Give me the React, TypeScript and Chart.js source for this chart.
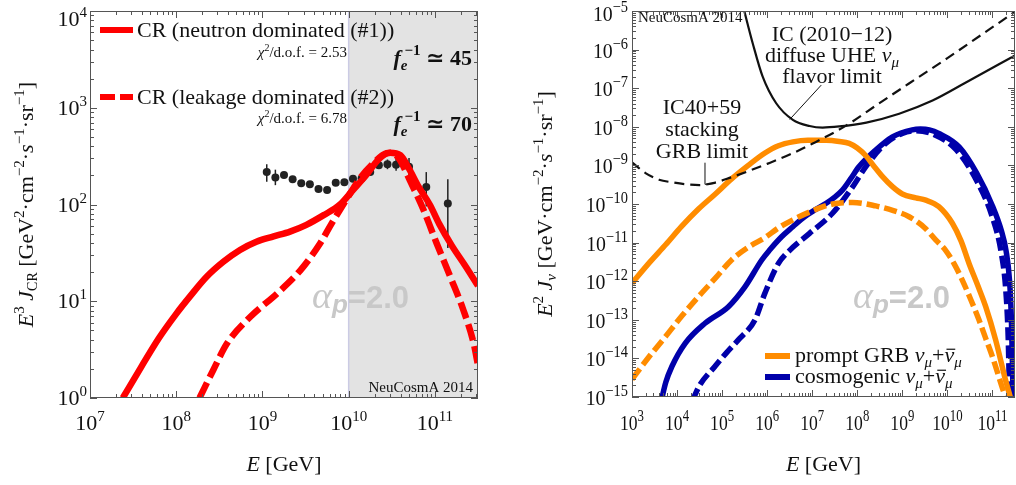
import React, { useEffect, useRef } from 'react';
import { Chart, registerables } from 'chart.js';

Chart.register(...registerables);

const SERIF = '"Liberation Serif", "DejaVu Serif", serif';
const SANS = '"Liberation Sans", "DejaVu Sans", sans-serif';
const RED = '#ff0000';
const ORANGE = '#ff8c00';
const BLUE = '#0000aa';
const INK = '#111111';

// ---------------- Left panel: CR spectrum (log10 E [GeV], log10 E^3 J) ----------------
const crNeutronLogE = [7.38, 7.6, 7.8, 8.0, 8.16, 8.35, 8.55, 8.74, 8.93, 9.13, 9.32, 9.51, 9.71, 9.9, 10.05, 10.2, 10.35, 10.48, 10.6, 10.7, 10.8, 10.94, 11.05, 11.2, 11.35, 11.5];
const crNeutronLogJ = [0, 0.33, 0.62, 0.87, 1.05, 1.25, 1.41, 1.53, 1.615, 1.67, 1.72, 1.79, 1.89, 2.0, 2.15, 2.3, 2.47, 2.535, 2.51, 2.37, 2.2, 2.0, 1.8, 1.57, 1.37, 1.16];
const crLeakageLogE = [8.27, 8.43, 8.59, 8.86, 9.17, 9.44, 9.67, 9.8, 9.98, 10.13, 10.29, 10.44, 10.5, 10.58, 10.71, 10.87, 11.02, 11.18, 11.33, 11.45, 11.5];
const crLeakageLogJ = [0, 0.29, 0.565, 0.84, 1.08, 1.32, 1.6, 1.8, 2.06, 2.27, 2.43, 2.53, 2.535, 2.48, 2.25, 1.94, 1.6, 1.25, 0.91, 0.565, 0.34];
const augerLogE = [9.05, 9.15, 9.25, 9.35, 9.45, 9.55, 9.65, 9.75, 9.85, 9.95, 10.05, 10.15, 10.25, 10.35, 10.45, 10.55, 10.7, 10.9, 11.15];
const augerLogJ = [2.335, 2.28, 2.305, 2.26, 2.22, 2.21, 2.16, 2.15, 2.225, 2.23, 2.265, 2.27, 2.335, 2.405, 2.415, 2.41, 2.39, 2.18, 2.01];
const augerErrUp = [0.08, 0.08, 0.03, 0.02, 0.02, 0.02, 0.02, 0.02, 0.02, 0.02, 0.02, 0.02, 0.02, 0.03, 0.05, 0.06, 0.09, 0.155, 0.25];
const augerErrDown = [0.1, 0.08, 0.03, 0.02, 0.02, 0.02, 0.02, 0.02, 0.02, 0.02, 0.02, 0.02, 0.02, 0.03, 0.05, 0.06, 0.12, 0.2, 0.46];
const shadeFromE = 1e10;
const leftXLabelExps = [7, 8, 9, 10, 11];
const leftYLabelExps = [0, 1, 2, 3, 4];

// ---------------- Right panel: neutrino fluxes (log10 E [GeV], log10 E^2 J) ----------------
const icLimitLogE = [5.47, 5.68, 5.9, 6.2, 6.57, 6.94, 7.23, 7.6, 8.2, 8.93, 9.67, 10.4, 11.5];
const icLimitLogJ = [-4.9, -5.84, -6.7, -7.39, -7.82, -7.98, -8.02, -7.99, -7.89, -7.66, -7.32, -6.86, -6.15];
const grbStackLogE = [3.0, 3.3, 3.6, 3.9, 4.2, 4.5, 4.8, 5.2, 5.6, 6.0, 6.5, 7.0, 7.75, 8.5, 9.3, 10.0, 10.8, 11.5];
const grbStackLogJ = [-8.92, -9.2, -9.37, -9.44, -9.49, -9.51, -9.46, -9.31, -9.14, -8.96, -8.72, -8.44, -7.97, -7.38, -6.76, -6.22, -5.58, -5.02];
const promptSolidLogE = [3.0, 3.4, 3.75, 4.1, 4.475, 4.85, 5.21, 5.58, 5.95, 6.25, 6.57, 6.9, 7.31, 7.6, 7.82, 8.0, 8.19, 8.37, 8.56, 8.78, 9.0, 9.3, 9.52, 9.81, 10.11, 10.3, 10.48, 10.67, 10.85, 11.07, 11.29, 11.42];
const promptSolidLogJ = [-12.05, -11.5, -11.05, -10.58, -10.13, -9.74, -9.35, -9.0, -8.68, -8.49, -8.39, -8.35, -8.35, -8.38, -8.43, -8.55, -8.75, -9.02, -9.29, -9.55, -9.74, -9.84, -9.9, -10.07, -10.5, -10.95, -11.54, -12.1, -12.66, -13.52, -14.56, -15.1];
const promptDashedLogE = [3.0, 3.37, 3.74, 4.1, 4.475, 4.85, 5.21, 5.58, 5.95, 6.25, 6.57, 7.0, 7.45, 7.9, 8.41, 8.8, 9.15, 9.5, 9.74, 9.96, 10.15, 10.33, 10.52, 10.7, 10.85, 11.0, 11.21, 11.3];
const promptDashedLogJ = [-14.54, -13.97, -13.44, -12.91, -12.4, -11.92, -11.45, -11.12, -10.87, -10.62, -10.41, -10.18, -10.0, -9.96, -10.05, -10.17, -10.33, -10.62, -10.93, -11.2, -11.55, -11.97, -12.48, -13.0, -13.48, -13.96, -14.73, -15.05];
const cosmoSolidLogE = [3.65, 3.75, 3.885, 4.18, 4.62, 5.14, 5.51, 5.88, 6.05, 6.32, 6.57, 6.83, 7.05, 7.31, 7.5, 7.67, 7.85, 8.04, 8.41, 8.78, 9.22, 9.4, 9.6, 9.81, 10.26, 10.65, 11.0, 11.2, 11.3, 11.38, 11.42, 11.44, 11.46];
const cosmoSolidLogJ = [-15.1, -14.62, -14.21, -13.61, -13.09, -12.66, -12.14, -11.45, -11.2, -10.85, -10.59, -10.33, -10.16, -9.98, -9.82, -9.64, -9.35, -9.03, -8.6, -8.26, -8.08, -8.06, -8.08, -8.17, -8.52, -9.2, -10.05, -10.7, -11.2, -12.0, -13.0, -14.0, -15.1];
const cosmoDashedLogE = [4.34, 4.5, 4.84, 5.1, 5.36, 5.73, 5.95, 6.25, 6.5, 6.94, 7.45, 7.9, 8.19, 8.63, 9.0, 9.3, 9.7, 10.2, 10.65, 11.0, 11.2, 11.3, 11.35, 11.38];
const cosmoDashedLogJ = [-15.1, -14.7, -14.21, -13.85, -13.52, -13.0, -12.31, -11.54, -11.2, -10.76, -10.24, -9.55, -9.03, -8.43, -8.17, -8.1, -8.2, -8.6, -9.4, -10.35, -11.3, -12.3, -13.5, -15.1];
const icPointerLogE = [7.2, 6.5];
const icPointerLogJ = [-6.92, -7.81];
const grbPointerLogE = [4.62, 4.62, 4.81];
const grbPointerLogJ = [-8.93, -9.49, -9.47];
const rightXLabelExps = [3, 4, 5, 6, 7, 8, 9, 10, 11];
const rightYLabelExps = [-15, -14, -13, -12, -11, -10, -9, -8, -7, -6, -5];

const toPts = (lx: number[], ly: number[]) => lx.map((e, i) => ({ x: Math.pow(10, e), y: Math.pow(10, ly[i]) }));

type Seg = { t: string; s: number; st?: string; w?: string; fam?: string; dy?: number; dx?: number; bar?: boolean };

const fontOf = (g: Seg) => `${g.st || 'normal'} ${g.w || 'normal'} ${g.s}px ${g.fam || SERIF}`;

function drawRich(ctx: any, segs: Seg[], x: number, y: number, align: string, color: string, sx = 1) {
  ctx.save();
  ctx.fillStyle = color;
  ctx.strokeStyle = color;
  ctx.textBaseline = 'alphabetic';
  ctx.textAlign = 'left';
  const widths = segs.map((g) => {
    ctx.font = fontOf(g);
    return ctx.measureText(g.t).width;
  });
  const total = segs.reduce((a, g, i) => a + widths[i] + (g.dx || 0), 0) * sx;
  const start = align === 'left' ? x : align === 'center' ? x - total / 2 : x - total;
  ctx.translate(start, y);
  ctx.scale(sx, 1);
  let cx = 0;
  segs.forEach((g, i) => {
    cx += g.dx || 0;
    ctx.font = fontOf(g);
    ctx.fillText(g.t, cx, g.dy || 0);
    if (g.bar) {
      ctx.lineWidth = 1.2;
      const by = (g.dy || 0) - g.s * 0.58;
      ctx.beginPath();
      ctx.moveTo(cx + 2, by);
      ctx.lineTo(cx + widths[i] + 1, by);
      ctx.stroke();
    }
    cx += widths[i];
  });
  ctx.restore();
}

function expLabel(n: number, base: number, sup: number): Seg[] {
  return [
    { t: '10', s: base },
    { t: n < 0 ? '\u2212' + String(-n) : String(n), s: sup, dy: -Math.round(base * 0.42) },
  ];
}

function drawFrameTicks(chart: any) {
  const { ctx, chartArea: a } = chart;
  const xs = chart.scales.x;
  const ys = chart.scales.y;
  ctx.save();
  ctx.strokeStyle = '#555';
  ctx.lineWidth = 1;
  ctx.strokeRect(a.left + 0.5, a.top + 0.5, a.right - a.left - 1, a.bottom - a.top - 1);
  ctx.beginPath();
  const lo = (v: number) => Math.floor(Math.log10(v) + 1e-9);
  const hi = (v: number) => Math.ceil(Math.log10(v) - 1e-9);
  for (let e = lo(xs.min); e <= hi(xs.max); e++) {
    for (let k = 1; k <= 9; k++) {
      const v = k * Math.pow(10, e);
      if (v < xs.min * 0.999 || v > xs.max * 1.001) continue;
      const p = Math.round(xs.getPixelForValue(v)) + 0.5;
      const len = k === 1 ? 7 : 4;
      ctx.moveTo(p, a.bottom);
      ctx.lineTo(p, a.bottom - len);
      ctx.moveTo(p, a.top);
      ctx.lineTo(p, a.top + len);
    }
  }
  for (let e = lo(ys.min); e <= hi(ys.max); e++) {
    for (let k = 1; k <= 9; k++) {
      const v = k * Math.pow(10, e);
      if (v < ys.min * 0.999 || v > ys.max * 1.001) continue;
      const p = Math.round(ys.getPixelForValue(v)) + 0.5;
      const len = k === 1 ? 7 : 4;
      ctx.moveTo(a.left, p);
      ctx.lineTo(a.left + len, p);
      ctx.moveTo(a.right, p);
      ctx.lineTo(a.right - len, p);
    }
  }
  ctx.stroke();
  ctx.restore();
}

function drawAlpha(ctx: any, x: number, y: number) {
  drawRich(
    ctx,
    [
      { t: '\u03b1', s: 38, st: 'italic' },
      { t: 'p', s: 26, st: 'italic', w: 'bold', fam: SANS, dy: 5 },
      { t: '=2.0', s: 31, w: 'bold', fam: SANS },
    ],
    x,
    y,
    'left',
    '#c8c8c8'
  );
}

function line(ctx: any, pts: number[][], color: string, width: number, dash: number[] = []) {
  ctx.save();
  ctx.strokeStyle = color;
  ctx.lineWidth = width;
  ctx.setLineDash(dash);
  ctx.beginPath();
  pts.forEach((p, i) => (i === 0 ? ctx.moveTo(p[0], p[1]) : ctx.lineTo(p[0], p[1])));
  ctx.stroke();
  ctx.restore();
}

const leftDecor = {
  id: 'leftDecor',
  beforeDatasetsDraw(chart: any) {
    const { ctx, chartArea: a } = chart;
    const xs = chart.scales.x;
    const ys = chart.scales.y;
    const x0 = xs.getPixelForValue(shadeFromE);
    ctx.save();
    ctx.fillStyle = '#e3e3e3';
    ctx.fillRect(x0, a.top, a.right - x0, a.bottom - a.top);
    ctx.restore();
    line(ctx, [[x0, a.top], [x0, a.bottom]], '#cbcbe4', 1.5);
    drawAlpha(ctx, 312, 308);
    drawRich(ctx, [{ t: 'NeuCosmA 2014', s: 15 }], a.right - 5, a.bottom - 6, 'right', INK);
    augerLogE.forEach((e, i) => {
      const px = xs.getPixelForValue(Math.pow(10, e));
      const y1 = ys.getPixelForValue(Math.pow(10, augerLogJ[i] + augerErrUp[i]));
      const y2 = ys.getPixelForValue(Math.pow(10, augerLogJ[i] - augerErrDown[i]));
      line(ctx, [[px, y1], [px, y2]], '#222', 1.5);
    });
  },
  afterDraw(chart: any) {
    const { ctx, chartArea: a } = chart;
    const xs = chart.scales.x;
    const ys = chart.scales.y;
    drawFrameTicks(chart);
    leftXLabelExps.forEach((n) => {
      drawRich(ctx, expLabel(n, 22, 15), xs.getPixelForValue(Math.pow(10, n)), 430, 'center', INK);
    });
    leftYLabelExps.forEach((n) => {
      const p = ys.getPixelForValue(Math.pow(10, n));
      drawRich(ctx, expLabel(n, 22, 15), a.left - 3, Math.max(p + 7, 26), 'right', INK);
    });
    drawRich(ctx, [{ t: 'E', s: 22, st: 'italic' }, { t: ' [GeV]', s: 22 }], (a.left + a.right) / 2, 471, 'center', INK);
    ctx.save();
    ctx.translate(33, (a.top + a.bottom) / 2);
    ctx.rotate(-Math.PI / 2);
    drawRich(
      ctx,
      [
        { t: 'E', s: 22, st: 'italic' },
        { t: '3', s: 15, dy: -9 },
        { t: ' J', s: 22, st: 'italic' },
        { t: 'CR', s: 14, dy: 4 },
        { t: ' [GeV', s: 22 },
        { t: '2', s: 15, dy: -9 },
        { t: '\u00b7cm', s: 22 },
        { t: '\u22122', s: 15, dy: -9 },
        { t: '\u00b7', s: 22 },
        { t: 's', s: 22, st: 'italic' },
        { t: '\u22121', s: 15, dy: -9 },
        { t: '\u00b7sr', s: 22 },
        { t: '\u22121', s: 15, dy: -9 },
        { t: ']', s: 22 },
      ],
      0,
      0,
      'center',
      INK
    );
    ctx.restore();
    // legend
    line(ctx, [[100, 30], [133, 30]], RED, 6);
    drawRich(ctx, [{ t: 'CR (neutron dominated (#1))', s: 22 }], 137, 37, 'left', INK);
    const chi = (v: string): Seg[] => [
      { t: '\u03c7', s: 15, st: 'italic' },
      { t: '2', s: 10, dy: -6 },
      { t: '/d.o.f. = ' + v, s: 15 },
    ];
    drawRich(ctx, chi('2.53'), 347, 57, 'right', INK);
    const fe = (v: string): Seg[] => [
      { t: 'f', s: 22, st: 'italic', w: 'bold' },
      { t: 'e', s: 15, st: 'italic', w: 'bold', dy: 5 },
      { t: '\u22121', s: 15, w: 'bold', dy: -10, dx: -3 },
      { t: ' \u2243 ' + v, s: 22, w: 'bold' },
    ];
    drawRich(ctx, fe('45'), 472, 65, 'right', INK);
    line(ctx, [[100, 97], [115, 97]], RED, 6);
    line(ctx, [[120, 97], [133, 97]], RED, 6);
    drawRich(ctx, [{ t: 'CR (leakage dominated (#2))', s: 22 }], 137, 104, 'left', INK);
    drawRich(ctx, chi('6.78'), 347, 123, 'right', INK);
    drawRich(ctx, fe('70'), 472, 131, 'right', INK);
  },
};

const nuSegs = (prefix: string): Seg[] => [
  { t: prefix, s: 22 },
  { t: '\u03bd', s: 22, st: 'italic' },
  { t: '\u03bc', s: 15, st: 'italic', dy: 5 },
  { t: '+', s: 22 },
  { t: '\u03bd', s: 22, st: 'italic', bar: true },
  { t: '\u03bc', s: 15, st: 'italic', dy: 5 },
];

const rightDecor = {
  id: 'rightDecor',
  beforeDatasetsDraw(chart: any) {
    const { ctx } = chart;
    drawAlpha(ctx, 353, 308);
  },
  afterDraw(chart: any) {
    const { ctx, chartArea: a } = chart;
    const xs = chart.scales.x;
    const ys = chart.scales.y;
    drawFrameTicks(chart);
    rightXLabelExps.forEach((n) => {
      drawRich(ctx, expLabel(n, 22, 16), xs.getPixelForValue(Math.pow(10, n)), 430, 'center', INK, 0.8);
    });
    rightYLabelExps.forEach((n) => {
      const p = ys.getPixelForValue(Math.pow(10, n));
      drawRich(ctx, expLabel(n, 22, 16), a.left - 4, Math.max(p + 8, 21), 'right', INK, 0.9);
    });
    drawRich(ctx, [{ t: 'E', s: 22, st: 'italic' }, { t: ' [GeV]', s: 22 }], (a.left + a.right) / 2, 471, 'center', INK);
    ctx.save();
    ctx.translate(52, (a.top + a.bottom) / 2);
    ctx.rotate(-Math.PI / 2);
    drawRich(
      ctx,
      [
        { t: 'E', s: 22, st: 'italic' },
        { t: '2', s: 15, dy: -9 },
        { t: ' J', s: 22, st: 'italic' },
        { t: '\u03bd', s: 15, st: 'italic', dy: 4 },
        { t: ' [GeV\u00b7cm', s: 22 },
        { t: '\u22122', s: 15, dy: -9 },
        { t: '\u00b7', s: 22 },
        { t: 's', s: 22, st: 'italic' },
        { t: '\u22121', s: 15, dy: -9 },
        { t: '\u00b7sr', s: 22 },
        { t: '\u22121', s: 15, dy: -9 },
        { t: ']', s: 22 },
      ],
      0,
      0,
      'center',
      INK
    );
    ctx.restore();
    drawRich(ctx, [{ t: 'NeuCosmA 2014', s: 15 }], a.left + 6, 22, 'left', INK);
    // IC diffuse limit annotation
    drawRich(ctx, [{ t: 'IC (2010\u221212)', s: 22 }], 332, 41, 'center', INK);
    drawRich(ctx, [{ t: 'diffuse UHE ', s: 22 }, { t: '\u03bd', s: 22, st: 'italic' }, { t: '\u03bc', s: 15, st: 'italic', dy: 5 }], 332, 62, 'center', INK);
    drawRich(ctx, [{ t: 'flavor limit', s: 22 }], 332, 83, 'center', INK);
    const toPx = (le: number[], lj: number[]) =>
      le.map((e, i) => [xs.getPixelForValue(Math.pow(10, e)), ys.getPixelForValue(Math.pow(10, lj[i]))]);
    line(ctx, toPx(icPointerLogE, icPointerLogJ), INK, 1);
    // GRB stacking annotation
    drawRich(ctx, [{ t: 'IC40+59', s: 22 }], 202, 114, 'center', INK);
    drawRich(ctx, [{ t: 'stacking', s: 22 }], 202, 136, 'center', INK);
    drawRich(ctx, [{ t: 'GRB limit', s: 22 }], 202, 158, 'center', INK);
    line(ctx, toPx(grbPointerLogE, grbPointerLogJ), INK, 1);
    // legend
    line(ctx, [[265, 356], [290, 356]], ORANGE, 6);
    drawRich(ctx, nuSegs('prompt GRB '), 295, 362, 'left', INK);
    line(ctx, [[265, 377], [290, 377]], BLUE, 6);
    drawRich(ctx, nuSegs('cosmogenic '), 295, 383, 'left', INK);
  },
};

const lineDs = (pts: any[], color: string, width: number, dash: number[] = []) => ({
  data: pts,
  borderColor: color,
  backgroundColor: color,
  borderWidth: width,
  borderDash: dash,
  pointRadius: 0,
  fill: false,
  cubicInterpolationMode: 'monotone',
  clip: 0,
});

const axisCommon = {
  type: 'logarithmic',
  ticks: { display: false },
  grid: { display: false },
  border: { display: false },
};

function leftConfig(): any {
  return {
    type: 'line',
    data: {
      datasets: [
        lineDs(toPts(crNeutronLogE, crNeutronLogJ), RED, 6.5),
        lineDs(toPts(crLeakageLogE, crLeakageLogJ), RED, 6.5, [17, 6]),
        {
          data: toPts(augerLogE, augerLogJ),
          showLine: false,
          pointRadius: 4,
          pointBackgroundColor: '#222',
          pointBorderWidth: 0,
          borderColor: '#222',
          clip: 0,
        },
      ],
    },
    options: {
      animation: false,
      responsive: false,
      events: [],
      layout: { padding: { top: 11, right: 22, left: 0, bottom: 0 } },
      plugins: { legend: { display: false }, tooltip: { enabled: false } },
      scales: {
        x: { ...axisCommon, min: 1e7, max: Math.pow(10, 11.5), afterFit: (s: any) => { s.height = 87; } },
        y: { ...axisCommon, min: 1, max: 1e4, afterFit: (s: any) => { s.width = 90; } },
      },
    },
    plugins: [leftDecor],
  };
}

function rightConfig(): any {
  return {
    type: 'line',
    data: {
      datasets: [
        lineDs(toPts(icLimitLogE, icLimitLogJ), INK, 2.2),
        lineDs(toPts(grbStackLogE, grbStackLogJ), INK, 2.2, [10, 6]),
        lineDs(toPts(promptDashedLogE, promptDashedLogJ), ORANGE, 5.5, [13, 5]),
        lineDs(toPts(promptSolidLogE, promptSolidLogJ), ORANGE, 5.5),
        lineDs(toPts(cosmoSolidLogE, cosmoSolidLogJ), BLUE, 5.5),
        lineDs(toPts(cosmoDashedLogE, cosmoDashedLogJ), BLUE, 5.5, [13, 5]),
      ],
    },
    options: {
      animation: false,
      responsive: false,
      events: [],
      layout: { padding: { top: 11, right: 1, left: 0, bottom: 0 } },
      plugins: { legend: { display: false }, tooltip: { enabled: false } },
      scales: {
        x: { ...axisCommon, min: 1e3, max: Math.pow(10, 11.5), afterFit: (s: any) => { s.height = 88; } },
        y: { ...axisCommon, min: 1e-15, max: 1e-5, afterFit: (s: any) => { s.width = 132; } },
      },
    },
    plugins: [rightDecor],
  };
}

export default function App() {
  const leftRef = useRef<HTMLCanvasElement>(null);
  const rightRef = useRef<HTMLCanvasElement>(null);
  useEffect(() => {
    document.body.style.margin = '0';
    const c1 = new Chart(leftRef.current as HTMLCanvasElement, leftConfig());
    const c2 = new Chart(rightRef.current as HTMLCanvasElement, rightConfig());
    return () => {
      c1.destroy();
      c2.destroy();
    };
  }, []);
  return (
    <div style={{ position: 'fixed', left: 0, top: 0, width: 1016, height: 485, background: '#fff' }}>
      <canvas ref={leftRef} width={500} height={485} style={{ position: 'absolute', left: 0, top: 0, width: 500, height: 485 }} />
      <canvas ref={rightRef} width={516} height={485} style={{ position: 'absolute', left: 500, top: 0, width: 516, height: 485 }} />
    </div>
  );
}
